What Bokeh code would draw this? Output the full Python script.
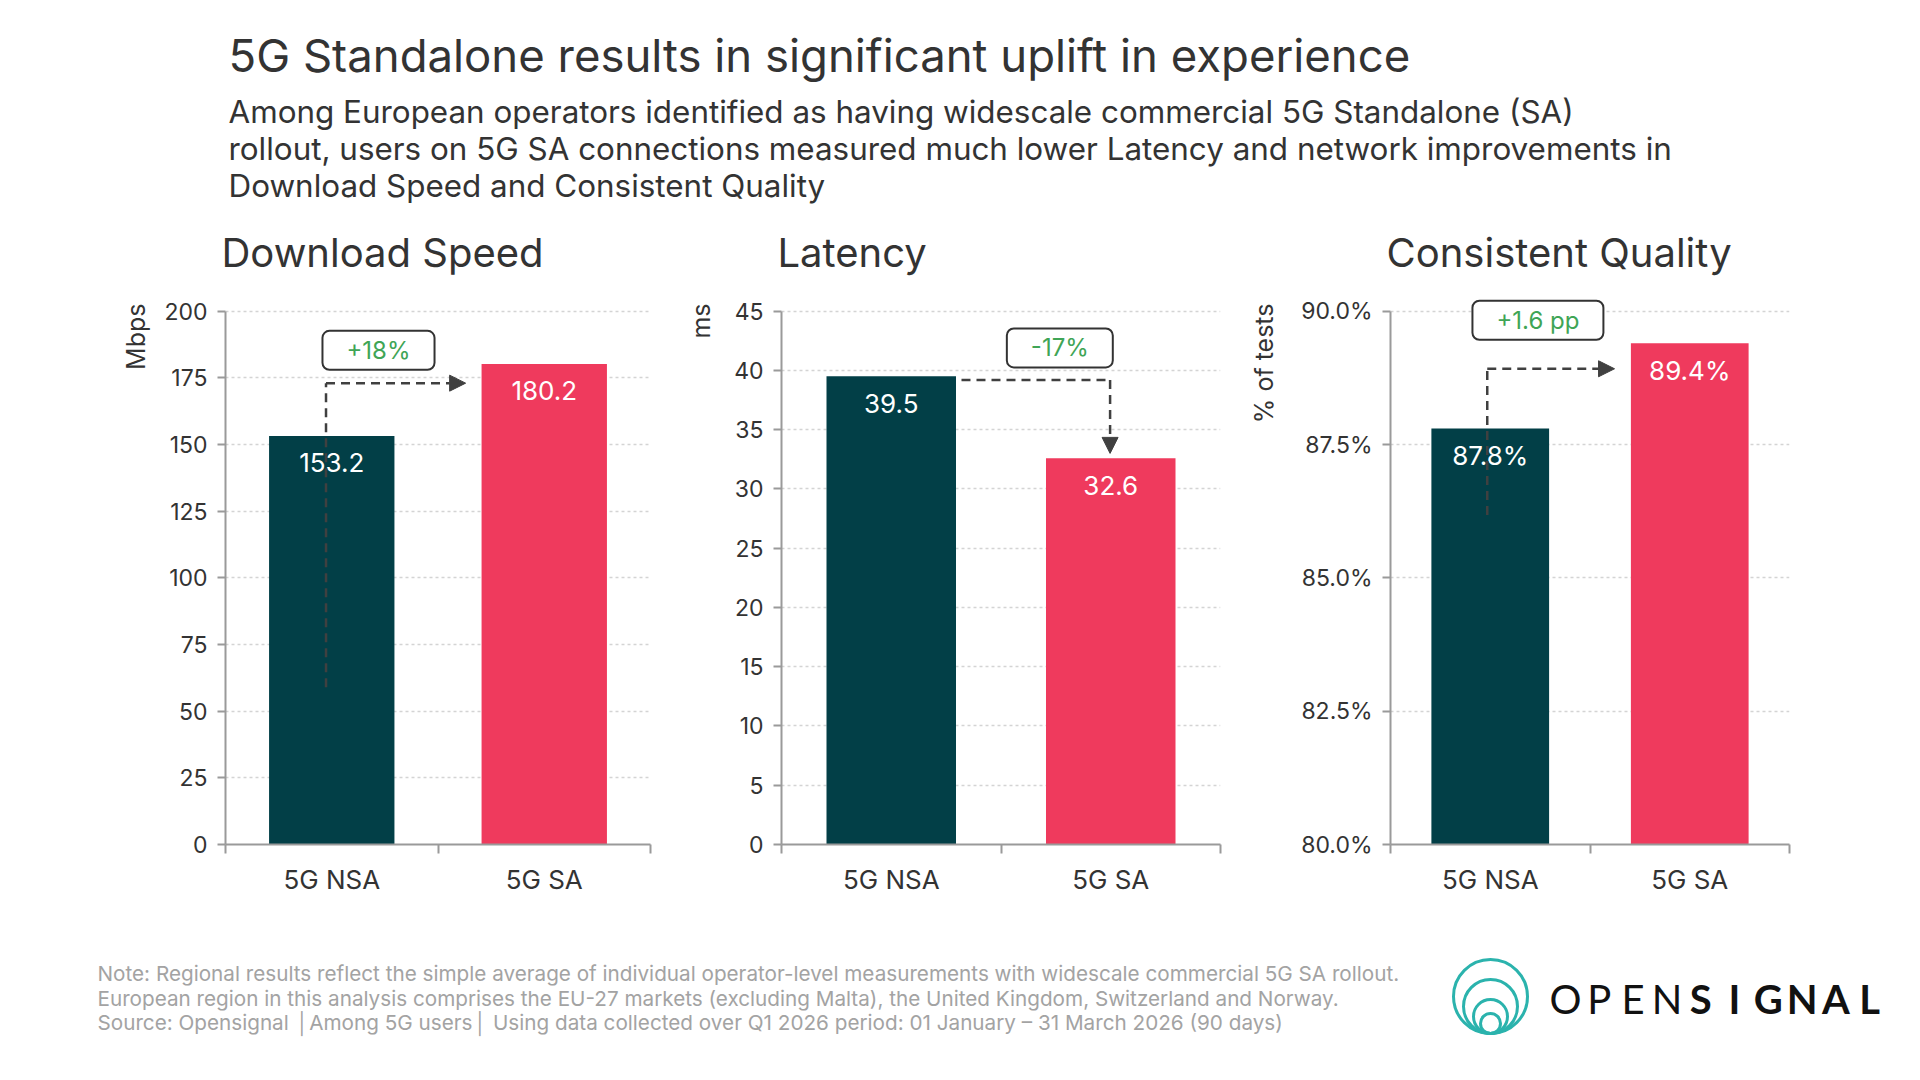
from bokeh.plotting import figure
from bokeh.models import Range1d, FixedTicker, PrintfTickFormatter, Label, Arrow, NormalHead, Title
from bokeh.layouts import column, row
from bokeh.embed import file_html
from bokeh.resources import INLINE
from bokeh.core.properties import value

FONT = "Inter"
LOGO_FONT = "Lato"
TEXT = "#333333"
TEAL = "#023f47"
PINK = "#ef3a5d"
GREEN = "#3fa556"
AXIS = "#9a9a9a"

# ---------------- data ----------------
title = "5G Standalone results in significant uplift in experience"
subtitle = [
    "Among European operators identified as having widescale commercial 5G Standalone (SA)",
    "rollout, users on 5G SA connections measured much lower Latency and network improvements in",
    "Download Speed and Consistent Quality",
]
panel_titles = ["Download Speed", "Latency", "Consistent Quality"]
categories = ["5G NSA", "5G SA"]
download_speed = [153.2, 180.2]
latency = [39.5, 32.6]
consistent_quality = [87.8, 89.4]
download_ticks = [0, 25, 50, 75, 100, 125, 150, 175, 200]
latency_ticks = [0, 5, 10, 15, 20, 25, 30, 35, 40, 45]
quality_ticks = [80.0, 82.5, 85.0, 87.5, 90.0]
y_labels = ["Mbps", "ms", "% of tests"]
deltas = ["+18%", "-17%", "+1.6 pp"]
notes = [
    "Note: Regional results reflect the simple average of individual operator-level measurements with widescale commercial 5G SA rollout.",
    "European region in this analysis comprises the EU-27 markets (excluding Malta), the United Kingdom, Switzerland and Norway.",
    "Source: Opensignal  \u2502Among 5G users\u2502  Using data collected over Q1 2026 period: 01 January \u2013 31 March 2026 (90 days)",
]
logo_regular = "OPEN"
logo_bold = "SIGNAL"

EXT = 0.05  # headroom above the top tick (fraction of axis span)


def blank(width, height):
    p = figure(width=width, height=height, x_range=Range1d(0, width), y_range=Range1d(height, 0),
               output_backend="svg", toolbar_location=None, min_border=0,
               x_axis_type=None, y_axis_type=None)
    p.outline_line_color = None
    p.grid.visible = False
    return p


# ---------------- header ----------------
header = blank(1904, 216)
header.text(x=[228], y=[55], text=[title], text_font=value(FONT), text_font_size="45.5px",
            text_color=TEXT, text_baseline="middle", text_align="left")
header.text(x=[228] * len(subtitle), y=[111 + 37 * i for i in range(len(subtitle))], text=subtitle,
            text_font=value(FONT), text_font_size="31.4px", text_color=TEXT,
            text_baseline="middle", text_align="left")


# ---------------- panels ----------------
def panel(name, vals, labels, ticks, fmt, ylabel, label_gap, width, left, right, path, arrow, box, delta):
    lo, hi = ticks[0], ticks[-1]
    p = figure(width=width, height=714, x_range=Range1d(0, len(categories)),
               y_range=Range1d(lo, hi + EXT * (hi - lo)), output_backend="svg",
               toolbar_location=None, min_border_left=left, min_border_right=right,
               min_border_top=68, min_border_bottom=86)
    p.outline_line_color = None
    p.title.text = name
    p.title.text_font = FONT
    p.title.text_font_size = "40px"
    p.title.text_font_style = "normal"
    p.title.text_color = TEXT
    p.title.align = "left"
    p.title.offset = -4
    p.title.standoff = 16

    p.xgrid.visible = False
    p.ygrid.grid_line_color = "#d4d4d4"
    p.ygrid.grid_line_dash = "3 3"
    p.ygrid.grid_line_width = 1.5

    xs = [i + 0.5 for i in range(len(categories))]
    p.vbar(x=xs, top=vals, bottom=lo, width=0.59, fill_color=[TEAL, PINK], line_color=None)
    p.text(x=xs, y=vals, text=labels, text_color="white", text_font=value(FONT),
           text_font_size="26px", text_align="center", text_baseline="middle", y_offset=27)

    ya = p.yaxis[0]
    ya.ticker = FixedTicker(ticks=ticks)
    ya.formatter = PrintfTickFormatter(format=fmt)
    ya.bounds = (lo, hi)
    ya.axis_line_color = AXIS
    ya.axis_line_width = 2
    ya.major_tick_line_color = AXIS
    ya.major_tick_line_width = 2
    ya.major_tick_out = 8
    ya.major_tick_in = 0
    ya.minor_tick_line_color = None
    ya.major_label_text_font = FONT
    ya.major_label_text_font_size = "23px"
    ya.major_label_text_color = TEXT
    ya.major_label_standoff = 10

    # unit label, written along the left side near the top of the axis
    p.add_layout(Title(text=ylabel, align="right", offset=19, standoff=label_gap, text_font=FONT,
                       text_font_size="25px", text_font_style="normal", text_color=TEXT), "left")

    xa = p.xaxis[0]
    xa.ticker = FixedTicker(ticks=xs, minor_ticks=list(range(len(categories) + 1)))
    xa.major_label_overrides = {x: c for x, c in zip(xs, categories)}
    xa.axis_line_color = AXIS
    xa.axis_line_width = 2
    xa.major_tick_line_color = None
    xa.minor_tick_line_color = AXIS
    xa.minor_tick_line_width = 2
    xa.minor_tick_out = 9
    xa.minor_tick_in = 0
    xa.major_label_text_font = FONT
    xa.major_label_text_font_size = "26px"
    xa.major_label_text_color = TEXT
    xa.major_label_standoff = 10

    dash = "9 6"
    if path is not None:
        p.line(x=path[0], y=path[1], line_color="#404040", line_width=2.5, line_dash=dash)
    p.add_layout(Arrow(end=NormalHead(size=16, fill_color="#404040", line_color="#404040"),
                       x_start=arrow[0], y_start=arrow[1], x_end=arrow[2], y_end=arrow[3],
                       line_color="#404040", line_width=2.5, line_dash=dash))
    lab = Label(x=box[0], y=box[1], text=delta, text_font=FONT, text_font_size="24px",
                text_color=GREEN, text_align="center", text_baseline="middle",
                background_fill_color="white", border_line_color="#333333",
                border_line_width=2)
    try:
        lab.padding = (24, 5)
        lab.border_radius = 7
    except Exception:
        pass
    p.add_layout(lab)
    return p


p1 = panel(panel_titles[0], download_speed, [f"{v:.1f}" for v in download_speed], download_ticks,
           "%d", y_labels[0], 21, 667, 225, 17,
           path=([0.473, 0.473], [59, 173]), arrow=(0.473, 173, 1.13, 173),
           box=(0.72, 185.3), delta=deltas[0])
p2 = panel(panel_titles[1], latency, [f"{v:.1f}" for v in latency], latency_ticks, "%d", y_labels[1],
           32, 557, 114, 4,
           path=([0.82, 1.497], [39.2, 39.2]), arrow=(1.497, 39.2, 1.497, 33.0),
           box=(1.268, 41.9), delta=deltas[1])
p3 = panel(panel_titles[2], consistent_quality, [f"{v:.1f}%" for v in consistent_quality],
           quality_ticks, "%.1f%%", y_labels[2], 40, 680, 166, 115,
           path=([0.485, 0.485], [86.18, 88.92]), arrow=(0.485, 88.92, 1.123, 88.92),
           box=(0.739, 89.83), delta=deltas[2])

# ---------------- footer ----------------
footer = blank(1904, 134)
footer.text(x=[97] * len(notes), y=[43 + 24.5 * i for i in range(len(notes))], text=notes,
            text_font=value(FONT), text_font_size="20.7px", text_color="#a3a3a3",
            text_baseline="middle", text_align="left")
radii = [37, 27, 17, 10]
footer.circle(x=[1490] * len(radii), y=[103 - r for r in radii], radius=radii,
              fill_color=None, line_color="#2bb3ad", line_width=3)
letters = list(logo_regular) + list(logo_bold)
lx = [1565 + 33.8 * i for i in range(len(letters))]
footer.text(x=lx[:len(logo_regular)], y=[68] * len(logo_regular), text=list(logo_regular),
            text_font=value(LOGO_FONT), text_font_size="40px", text_color="#111111",
            text_align="center", text_baseline="middle")
footer.text(x=lx[len(logo_regular):], y=[68] * len(logo_bold), text=list(logo_bold),
            text_font=value(LOGO_FONT), text_font_size="40px", text_font_style="bold",
            text_color="#111111", text_align="center", text_baseline="middle")

layout = column(header, row(p1, p2, p3), footer)
open("out.html", "w").write(file_html(layout, INLINE))
